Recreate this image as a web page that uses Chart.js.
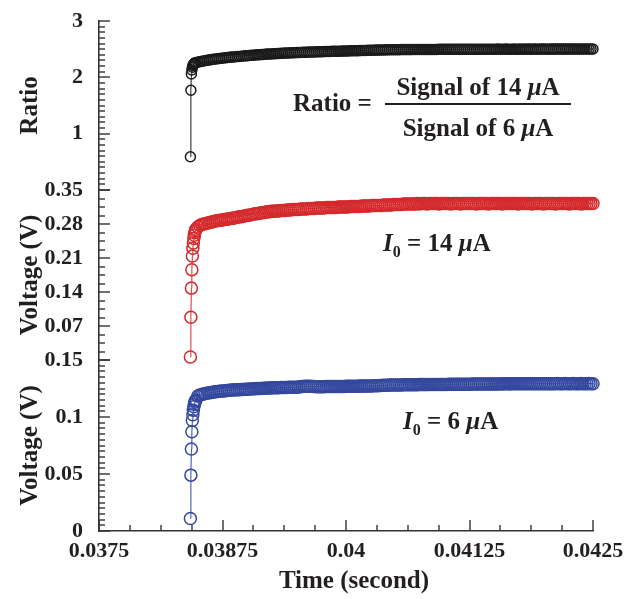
<!DOCTYPE html>
<html>
<head>
<meta charset="utf-8">
<script src="https://cdn.jsdelivr.net/npm/chart.js@4"></script>
<style>
  html, body { margin: 0; padding: 0; background: #fff; }
  #wrap { position: relative; width: 639px; height: 599px; overflow: hidden; }
  #wrap canvas { position: absolute; left: 0; top: 0; }
  .note { position: absolute; font-family: 'Liberation Serif', 'Times New Roman', serif; font-weight: bold;
          font-size: 25px; line-height: 1; color: #231f20; white-space: nowrap; }
  .note i { font-style: italic; }
  .sub0 { font-size: 16px; position: relative; top: 6px; }
  .rule { position: absolute; height: 1.5px; background: #231f20; }
</style>
</head>
<body>
<div id="wrap">
  <canvas id="cRatio" width="639" height="599"></canvas>
  <canvas id="cHigh" width="639" height="599"></canvas>
  <canvas id="cLow" width="639" height="599"></canvas>
  <canvas id="cTicks" width="639" height="599"></canvas>

  <div class="note" style="left:293px;top:90px;">Ratio =</div>
  <div class="note" style="left:385px;top:74px;width:186px;text-align:center;">Signal of 14 <i>μ</i>A</div>
  <div class="rule" style="left:385px;top:103px;width:186px;"></div>
  <div class="note" style="left:385px;top:115px;width:186px;text-align:center;">Signal of 6 <i>μ</i>A</div>

  <div class="note" style="left:383px;top:230px;"><i>I</i><span class="sub0">0</span> = 14 <i>μ</i>A</div>
  <div class="note" style="left:403px;top:408px;"><i>I</i><span class="sub0">0</span> = 6 <i>μ</i>A</div>

  <div class="note" style="left:254px;top:567px;width:200px;text-align:center;">Time (second)</div>
</div>

<script>
// ---- recorded data -------------------------------------------------------
// Turn-on edge: closely spaced samples (s)
const riseTime  = [0.038425, 0.03843, 0.038435, 0.03844, 0.038445, 0.03845,
                   0.038455, 0.03846, 0.038465, 0.03847, 0.038475, 0.03848];
const riseHigh  = [0.006, 0.088, 0.148, 0.186, 0.214, 0.230, 0.241, 0.250, 0.257, 0.262, 0.266, 0.269];
const riseLow   = [0.011, 0.049, 0.072, 0.087, 0.097, 0.102, 0.106, 0.109, 0.111, 0.113, 0.114, 0.115];
const riseRatio = [0.59, 1.77, 2.06, 2.13, 2.18, 2.21, 2.22, 2.24, 2.25, 2.25, 2.26, 2.26];

// Settling part of the record: first sample time and sampling interval (s)
const plateauStart = 0.0385;
const sampleStep = 0.00002;

// Signal with I0 = 14 uA (V)
const plateauHigh = [
  0.274, 0.277, 0.279, 0.280, 0.281, 0.282, 0.283, 0.284, 0.285, 0.286,
  0.287, 0.287, 0.288, 0.289, 0.290, 0.290, 0.291, 0.292, 0.292, 0.293,
  0.294, 0.295, 0.295, 0.296, 0.297, 0.298, 0.298, 0.299, 0.300, 0.301,
  0.301, 0.302, 0.303, 0.303, 0.304, 0.305, 0.305, 0.306, 0.306, 0.307,
  0.307, 0.307, 0.308, 0.308, 0.308, 0.309, 0.309, 0.309, 0.310, 0.310,
  0.310, 0.310, 0.311, 0.311, 0.311, 0.311, 0.312, 0.312, 0.312, 0.312,
  0.313, 0.313, 0.313, 0.313, 0.313, 0.314, 0.314, 0.314, 0.314, 0.314,
  0.314, 0.315, 0.315, 0.315, 0.315, 0.315, 0.315, 0.316, 0.316, 0.316,
  0.316, 0.316, 0.316, 0.317, 0.317, 0.317, 0.317, 0.317, 0.318, 0.318,
  0.318, 0.318, 0.318, 0.318, 0.319, 0.319, 0.319, 0.319, 0.319, 0.320,
  0.320, 0.320, 0.320, 0.320, 0.321, 0.321, 0.321, 0.321, 0.321, 0.321,
  0.321, 0.322, 0.321, 0.322, 0.322, 0.322, 0.321, 0.322, 0.322, 0.322,
  0.322, 0.322, 0.321, 0.322, 0.322, 0.322, 0.322, 0.322, 0.321, 0.322,
  0.322, 0.322, 0.322, 0.321, 0.322, 0.322, 0.322, 0.322, 0.322, 0.322,
  0.322, 0.321, 0.322, 0.322, 0.322, 0.322, 0.322, 0.321, 0.322, 0.322,
  0.322, 0.322, 0.322, 0.322, 0.321, 0.322, 0.322, 0.322, 0.322, 0.322,
  0.322, 0.322, 0.321, 0.322, 0.322, 0.322, 0.322, 0.322, 0.322, 0.321,
  0.322, 0.322, 0.322, 0.322, 0.322, 0.321, 0.322, 0.322, 0.322, 0.322,
  0.322, 0.321, 0.322, 0.322, 0.322, 0.322, 0.322, 0.322, 0.321, 0.322,
  0.322, 0.322, 0.322, 0.322, 0.321, 0.322, 0.322, 0.322, 0.322, 0.322,
  0.322
];

// Signal with I0 = 6 uA (V)
const plateauLow = [
  0.1185, 0.1192, 0.1198, 0.1203, 0.1207, 0.1210, 0.1213, 0.1216, 0.1219, 0.1221,
  0.1223, 0.1225, 0.1227, 0.1229, 0.1231, 0.1233, 0.1234, 0.1236, 0.1237, 0.1238,
  0.1239, 0.1240, 0.1241, 0.1242, 0.1243, 0.1244, 0.1245, 0.1246, 0.1247, 0.1248,
  0.1249, 0.1250, 0.1251, 0.1252, 0.1253, 0.1254, 0.1255, 0.1255, 0.1256, 0.1256,
  0.1257, 0.1257, 0.1258, 0.1258, 0.1259, 0.1259, 0.1260, 0.1260, 0.1261, 0.1261,
  0.1262, 0.1263, 0.1265, 0.1267, 0.1269, 0.1270, 0.1270, 0.1269, 0.1268, 0.1267,
  0.1266, 0.1266, 0.1266, 0.1266, 0.1266, 0.1267, 0.1267, 0.1267, 0.1267, 0.1267,
  0.1268, 0.1268, 0.1268, 0.1268, 0.1268, 0.1269, 0.1269, 0.1269, 0.1269, 0.1270,
  0.1270, 0.1270, 0.1271, 0.1271, 0.1271, 0.1272, 0.1272, 0.1273, 0.1273, 0.1274,
  0.1274, 0.1275, 0.1276, 0.1277, 0.1278, 0.1279, 0.1279, 0.1280, 0.1280, 0.1280,
  0.1281, 0.1281, 0.1281, 0.1281, 0.1282, 0.1282, 0.1282, 0.1282, 0.1283, 0.1283,
  0.1283, 0.1283, 0.1284, 0.1284, 0.1284, 0.1284, 0.1284, 0.1285, 0.1285, 0.1285,
  0.1285, 0.1285, 0.1286, 0.1286, 0.1286, 0.1286, 0.1286, 0.1287, 0.1287, 0.1287,
  0.1287, 0.1287, 0.1287, 0.1288, 0.1288, 0.1288, 0.1288, 0.1288, 0.1288, 0.1289,
  0.1289, 0.1289, 0.1289, 0.1289, 0.1289, 0.1289, 0.1290, 0.1290, 0.1290, 0.1290,
  0.1290, 0.1290, 0.1290, 0.1291, 0.1290, 0.1291, 0.1291, 0.1291, 0.1290, 0.1291,
  0.1291, 0.1291, 0.1291, 0.1291, 0.1292, 0.1291, 0.1291, 0.1292, 0.1292, 0.1291,
  0.1292, 0.1292, 0.1291, 0.1292, 0.1292, 0.1292, 0.1292, 0.1292, 0.1292, 0.1292,
  0.1292, 0.1292, 0.1293, 0.1292, 0.1292, 0.1292, 0.1293, 0.1292, 0.1292, 0.1292,
  0.1293, 0.1292, 0.1292, 0.1292, 0.1293, 0.1292, 0.1292, 0.1292, 0.1293, 0.1292,
  0.1292
];

// Ratio of the two signals
const plateauRatio = [
  2.270, 2.278, 2.285, 2.292, 2.298, 2.304, 2.310, 2.315, 2.320, 2.325,
  2.330, 2.335, 2.339, 2.343, 2.347, 2.351, 2.355, 2.359, 2.362, 2.366,
  2.369, 2.372, 2.375, 2.379, 2.382, 2.385, 2.388, 2.391, 2.394, 2.396,
  2.399, 2.402, 2.404, 2.407, 2.409, 2.412, 2.414, 2.416, 2.418, 2.420,
  2.422, 2.424, 2.426, 2.428, 2.430, 2.431, 2.433, 2.435, 2.436, 2.438,
  2.439, 2.441, 2.442, 2.444, 2.445, 2.446, 2.448, 2.449, 2.450, 2.451,
  2.452, 2.454, 2.455, 2.456, 2.457, 2.458, 2.459, 2.460, 2.461, 2.462,
  2.463, 2.464, 2.465, 2.466, 2.467, 2.468, 2.469, 2.470, 2.471, 2.472,
  2.473, 2.474, 2.475, 2.476, 2.477, 2.478, 2.479, 2.480, 2.481, 2.482,
  2.483, 2.484, 2.485, 2.486, 2.487, 2.488, 2.488, 2.489, 2.489, 2.490,
  2.490, 2.491, 2.491, 2.492, 2.492, 2.492, 2.493, 2.493, 2.493, 2.494,
  2.494, 2.494, 2.494, 2.495, 2.495, 2.495, 2.495, 2.496, 2.496, 2.496,
  2.496, 2.496, 2.497, 2.497, 2.497, 2.497, 2.497, 2.497, 2.498, 2.498,
  2.498, 2.498, 2.498, 2.498, 2.498, 2.499, 2.499, 2.499, 2.499, 2.499,
  2.499, 2.499, 2.499, 2.500, 2.500, 2.500, 2.500, 2.500, 2.500, 2.500,
  2.500, 2.500, 2.501, 2.500, 2.500, 2.500, 2.501, 2.500, 2.500, 2.500,
  2.501, 2.500, 2.500, 2.501, 2.500, 2.501, 2.500, 2.501, 2.501, 2.500,
  2.501, 2.501, 2.500, 2.501, 2.501, 2.501, 2.501, 2.500, 2.501, 2.501,
  2.501, 2.501, 2.502, 2.501, 2.501, 2.501, 2.501, 2.502, 2.501, 2.501,
  2.502, 2.501, 2.501, 2.502, 2.501, 2.502, 2.501, 2.502, 2.502, 2.501,
  2.502
];

// Axis ranges and tick spacing
const timeRange = [0.0375, 0.0425];
const timeTickStep = 0.00125;
const ratioRange = [0, 3];
const highRange = [0, 0.35];
const lowRange = [0, 0.15];

// ---- styling -------------------------------------------------------------
const serif = "'Liberation Serif', 'Times New Roman', serif";
const ink = '#231f20';
const axisInk = '#333333';

function toPoints(riseT, riseV, plateauV) {
  const pts = riseT.map((t, i) => ({ x: t, y: riseV[i] }));
  plateauV.forEach((v, i) => pts.push({ x: plateauStart + i * sampleStep, y: v }));
  return pts;
}

// Tick mark fractions along an axis: n divisions, a long mark every `every` divisions
function tickMarks(n, every, majorLen, minorLen) {
  const out = [];
  for (let i = 0; i <= n; i++) {
    out.push({ f: i / n, len: i % every === 0 ? majorLen : minorLen });
  }
  return out;
}

// Tick marks pointing into the plot area, placed from each chart's scales
const tickCtx = document.getElementById('cTicks').getContext('2d');
function drawInnerTicks(chart, marks) {
  const xs = chart.scales.x;
  const ys = chart.scales.y;
  const left = Math.round(xs.getPixelForDecimal(0));
  const top = ys.top;
  const bottom = ys.bottom;
  tickCtx.fillStyle = axisInk;
  marks.yTicks.forEach(t => {
    const py = Math.round(bottom - t.f * (bottom - top));
    tickCtx.fillRect(left, py - 0.7, t.len, 1.4);
  });
  if (marks.xTicks) {
    marks.xTicks.forEach(t => {
      const px = Math.round(xs.getPixelForDecimal(t.f));
      tickCtx.fillRect(px - 0.7, bottom - t.len, 1.4, t.len);
    });
  }
}

function fmt(v, digits) { return String(Number(v.toFixed(digits))); }

function makePanel(canvasId, cfg) {
  const dataset = {
    data: cfg.points,
    showLine: true,
    borderColor: cfg.color,
    borderWidth: 1,
    backgroundColor: 'rgba(0,0,0,0)',
    pointRadius: cfg.radius,
    pointBorderWidth: 1.5,
    pointBorderColor: cfg.color,
    pointBackgroundColor: 'rgba(0,0,0,0)',
    pointStyle: 'circle',
    tension: 0,
    clip: false
  };
  const xScale = {
    type: 'linear',
    min: timeRange[0],
    max: timeRange[1],
    display: cfg.showX,
    grid: { display: true, drawOnChartArea: false, drawTicks: false },
    border: { display: true, color: axisInk, width: 1.6 },
    ticks: {
      stepSize: timeTickStep,
      autoSkip: false,
      maxRotation: 0,
      padding: 7,
      color: ink,
      font: { family: serif, size: 22, weight: 'bold' },
      callback: v => fmt(v, 6)
    },
    title: { display: false }
  };
  if (cfg.showX) xScale.afterFit = s => { s.height = 68; };
  const yScale = {
    type: 'linear',
    min: cfg.range[0],
    max: cfg.range[1],
    grid: { display: true, drawOnChartArea: false, drawTicks: false },
    border: { display: true, color: axisInk, width: 1.6 },
    ticks: {
      stepSize: cfg.step,
      autoSkip: false,
      padding: 16,
      color: ink,
      font: { family: serif, size: 22, weight: 'bold' },
      callback: v => (cfg.hideZero && Math.abs(v) < 1e-9) ? '' : fmt(v, 4)
    },
    title: {
      display: true,
      text: cfg.title,
      color: ink,
      font: { family: serif, size: 25, weight: 'bold' },
      padding: { top: 16, bottom: 0 }
    },
    // fixed axis width; the panel edges come from the layout padding alone
    afterFit: s => { s.width = 99; s.paddingTop = 0; s.paddingBottom = 0; }
  };
  const chart = new Chart(document.getElementById(canvasId), {
    type: 'scatter',
    data: { datasets: [dataset] },
    options: {
      responsive: false,
      animation: false,
      events: [],
      devicePixelRatio: 1,
      layout: { autoPadding: false, padding: { left: 0, right: 46, top: cfg.padTop, bottom: cfg.padBottom } },
      scales: { x: xScale, y: yScale },
      plugins: { legend: { display: false }, tooltip: { enabled: false } }
    }
  });
  drawInnerTicks(chart, cfg.marks);
  return chart;
}

// Ratio panel
makePanel('cRatio', {
  points: toPoints(riseTime, riseRatio, plateauRatio),
  color: '#1a1a1a', radius: 5,
  range: ratioRange, step: 1, hideZero: true, title: 'Ratio',
  showX: false, padTop: 21, padBottom: 409,
  marks: { yTicks: tickMarks(30, 10, 11, 6) }
});

// I0 = 14 uA panel
makePanel('cHigh', {
  points: toPoints(riseTime, riseHigh, plateauHigh),
  color: '#d42a2d', radius: 6,
  range: highRange, step: 0.07, hideZero: true, title: 'Voltage (V)',
  showX: false, padTop: 190, padBottom: 239,
  marks: { yTicks: tickMarks(20, 4, 11, 6) }
});

// I0 = 6 uA panel, carries the time axis
makePanel('cLow', {
  points: toPoints(riseTime, riseLow, plateauLow),
  color: '#34489e', radius: 6,
  range: lowRange, step: 0.05, hideZero: false, title: 'Voltage (V)',
  showX: true, padTop: 360, padBottom: 0,
  marks: {
    yTicks: tickMarks(30, 10, 11, 6),
    xTicks: tickMarks(16, 4, 11, 6)
  }
});
</script>
</body>
</html>
